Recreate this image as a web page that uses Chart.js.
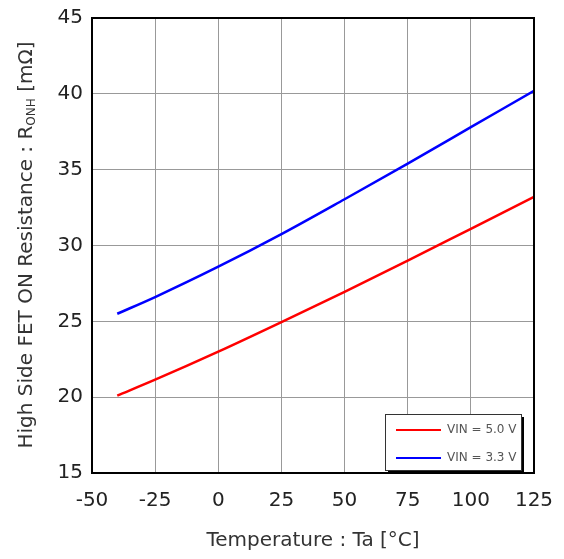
<!DOCTYPE html>
<html>
<head>
<meta charset="utf-8">
<script src="https://cdn.jsdelivr.net/npm/chart.js@4"></script>
<style>
  html, body { margin: 0; padding: 0; background: #fff; }
  #wrap { width: 564px; height: 559px; }
</style>
</head>
<body>
<div id="wrap"><canvas id="chart" width="564" height="559"></canvas></div>
<script>
var temps = [-40, -25, 0, 25, 50, 75, 100, 125];
var vin50 = [20.1, 21.15, 23.0, 24.95, 26.95, 29.0, 31.1, 33.2];
var vin33 = [25.5, 26.6, 28.6, 30.75, 33.05, 35.4, 37.8, 40.2];
var seriesLabels = ['VIN = 5.0 V', 'VIN = 3.3 V'];
var xTicks = [-50, -25, 0, 25, 50, 75, 100, 125];
var yTicks = [15, 20, 25, 30, 35, 40, 45];

function pts(ys) {
    return temps.map(function (t, i) { return { x: t, y: ys[i] }; });
}

var font = 'DejaVu Sans';

var extras = {
    id: 'extras',
    afterDraw: function (chart) {
        var ctx = chart.ctx;
        var a = chart.chartArea;
        ctx.save();
        // frame
        ctx.strokeStyle = '#000';
        ctx.lineWidth = 2;
        ctx.strokeRect(a.left, a.top, a.right - a.left, a.bottom - a.top);

        // x title
        ctx.fillStyle = '#333';
        ctx.font = '20px ' + font;
        ctx.textAlign = 'center';
        ctx.textBaseline = 'middle';
        ctx.fillText('Temperature : Ta [°C]', 313, 541);

        // y title with subscript
        ctx.translate(25, 245);
        ctx.rotate(-Math.PI / 2);
        var p1 = 'High Side FET ON Resistance : R';
        var sub = 'ONH';
        var p2 = ' [mΩ]';
        ctx.font = '20px ' + font;
        var w1 = ctx.measureText(p1).width;
        var w3 = ctx.measureText(p2).width;
        ctx.font = '12px ' + font;
        var w2 = ctx.measureText(sub).width;
        var x0 = -(w1 + w2 + w3) / 2;
        ctx.textAlign = 'left';
        ctx.textBaseline = 'alphabetic';
        ctx.font = '20px ' + font;
        ctx.fillText(p1, x0, 7);
        ctx.font = '12px ' + font;
        ctx.fillText(sub, x0 + w1, 10);
        ctx.font = '20px ' + font;
        ctx.fillText(p2, x0 + w1 + w2, 7);
        ctx.restore();

        // legend box
        ctx.save();
        var lx = 385, ly = 414, lw = 136, lh = 56;
        ctx.fillStyle = '#000';
        ctx.fillRect(lx + 3, ly + 3, lw, lh);
        ctx.fillStyle = '#fff';
        ctx.fillRect(lx, ly, lw, lh);
        ctx.strokeStyle = '#333';
        ctx.lineWidth = 1;
        ctx.strokeRect(lx + 0.5, ly + 0.5, lw, lh);
        chart.data.datasets.forEach(function (ds, i) {
            var yy = ly + 16 + i * 28;
            ctx.strokeStyle = ds.borderColor;
            ctx.lineWidth = 2;
            ctx.beginPath();
            ctx.moveTo(lx + 11, yy);
            ctx.lineTo(lx + 56, yy);
            ctx.stroke();
            ctx.fillStyle = '#555';
            ctx.font = '12px ' + font;
            ctx.textAlign = 'left';
            ctx.textBaseline = 'middle';
            ctx.fillText(ds.label, lx + 62, yy);
        });
        ctx.restore();
    }
};

new Chart(document.getElementById('chart').getContext('2d'), {
    type: 'line',
    data: {
        datasets: [{
            label: seriesLabels[0],
            data: pts(vin50),
            borderColor: '#ff0000',
            borderWidth: 2.5,
            pointRadius: 0,
            cubicInterpolationMode: 'monotone',
            fill: false
        }, {
            label: seriesLabels[1],
            data: pts(vin33),
            borderColor: '#0000ff',
            borderWidth: 2.5,
            pointRadius: 0,
            cubicInterpolationMode: 'monotone',
            fill: false
        }]
    },
    options: {
        responsive: false,
        animation: false,
        layout: { padding: { left: 0, right: 30, top: 18, bottom: 0 } },
        plugins: { legend: { display: false }, tooltip: { enabled: false } },
        scales: {
            x: {
                type: 'linear',
                min: -50,
                max: 125,
                afterBuildTicks: function (s) { s.ticks = xTicks.map(function (v) { return { value: v }; }); },
                afterFit: function (s) { s.height = 86; s.paddingLeft = 0; s.paddingRight = 0; },
                grid: { color: '#999', drawTicks: false },
                border: { display: false },
                ticks: { color: '#222', font: { family: font, size: 20 }, padding: 16, maxRotation: 0 }
            },
            y: {
                type: 'linear',
                min: 15,
                max: 45,
                afterBuildTicks: function (s) { s.ticks = yTicks.map(function (v) { return { value: v }; }); },
                afterFit: function (s) { s.width = 92; s.paddingTop = 0; s.paddingBottom = 0; },
                grid: { color: '#999', drawTicks: false },
                border: { display: false },
                ticks: { color: '#222', font: { family: font, size: 20 }, padding: 9 }
            }
        }
    },
    plugins: [extras]
});
</script>
</body>
</html>
